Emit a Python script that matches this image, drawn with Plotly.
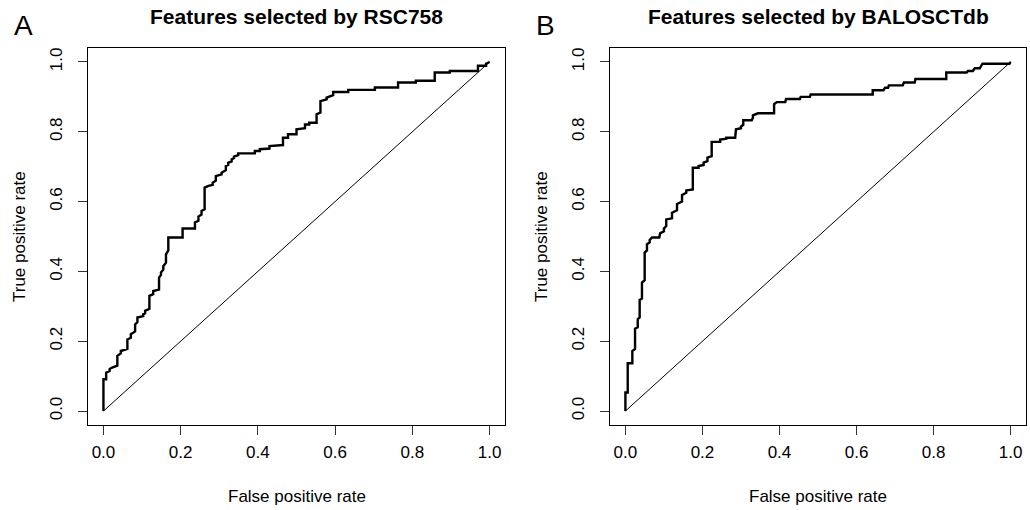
import plotly.graph_objects as go

# ---------------- data ----------------
fpr_rsc = [0, 0, 0.007, 0.007, 0.016, 0.016, 0.021, 0.036, 0.036, 0.045, 0.045, 0.062, 0.062,
           0.071, 0.071, 0.082, 0.082, 0.088, 0.088, 0.103, 0.103, 0.108, 0.108, 0.119, 0.119,
           0.129, 0.129, 0.144, 0.144, 0.149, 0.149, 0.155, 0.155, 0.162, 0.162, 0.168, 0.168,
           0.205, 0.205, 0.237, 0.237, 0.246, 0.246, 0.254, 0.254, 0.262, 0.262, 0.272, 0.283,
           0.283, 0.291, 0.291, 0.306, 0.306, 0.317, 0.317, 0.323, 0.323, 0.332, 0.332, 0.338,
           0.338, 0.349, 0.349, 0.392, 0.392, 0.405, 0.405, 0.43, 0.43, 0.465, 0.465, 0.478,
           0.478, 0.5, 0.5, 0.522, 0.522, 0.533, 0.533, 0.552, 0.552, 0.562, 0.562, 0.578,
           0.578, 0.595, 0.595, 0.634, 0.634, 0.703, 0.703, 0.763, 0.763, 0.809, 0.809, 0.858,
           0.858, 0.897, 0.897, 0.97, 0.97, 0.991, 0.991, 1.0]
tpr_rsc = [0, 0.091, 0.091, 0.11, 0.115, 0.12, 0.124, 0.13, 0.158, 0.165, 0.172, 0.178, 0.205,
           0.21, 0.22, 0.228, 0.248, 0.255, 0.268, 0.272, 0.277, 0.28, 0.287, 0.293, 0.33,
           0.335, 0.344, 0.348, 0.382, 0.39, 0.397, 0.405, 0.415, 0.425, 0.449, 0.46, 0.497,
           0.497, 0.523, 0.523, 0.54, 0.545, 0.557, 0.563, 0.573, 0.578, 0.64, 0.645, 0.648,
           0.654, 0.66, 0.673, 0.678, 0.683, 0.69, 0.702, 0.705, 0.711, 0.715, 0.721, 0.725,
           0.729, 0.733, 0.738, 0.738, 0.745, 0.745, 0.75, 0.752, 0.759, 0.762, 0.783, 0.783,
           0.793, 0.793, 0.807, 0.81, 0.821, 0.821, 0.826, 0.826, 0.85, 0.855, 0.888, 0.893,
           0.898, 0.905, 0.914, 0.914, 0.92, 0.92, 0.927, 0.927, 0.941, 0.941, 0.946, 0.946,
           0.97, 0.97, 0.974, 0.974, 0.989, 0.989, 0.995, 1.0]

fpr_bal = [0, 0, 0.006, 0.006, 0.018, 0.018, 0.025, 0.025, 0.032, 0.032, 0.037, 0.037, 0.043,
           0.043, 0.05, 0.05, 0.056, 0.056, 0.063, 0.063, 0.069, 0.088, 0.09, 0.1, 0.1, 0.106,
           0.106, 0.121, 0.121, 0.134, 0.134, 0.147, 0.147, 0.158, 0.158, 0.175, 0.175, 0.19,
           0.19, 0.203, 0.203, 0.213, 0.213, 0.224, 0.224, 0.246, 0.246, 0.262, 0.262, 0.285,
           0.287, 0.3, 0.3, 0.306, 0.306, 0.328, 0.331, 0.331, 0.344, 0.386, 0.386, 0.393,
           0.415, 0.417, 0.453, 0.455, 0.479, 0.481, 0.642, 0.642, 0.67, 0.674, 0.682, 0.684,
           0.72, 0.723, 0.751, 0.753, 0.833, 0.833, 0.886, 0.889, 0.902, 0.907, 0.92, 0.927,
           0.997, 1.0]
tpr_bal = [0, 0.053, 0.053, 0.137, 0.137, 0.172, 0.178, 0.236, 0.24, 0.263, 0.268, 0.318, 0.322,
           0.368, 0.375, 0.454, 0.46, 0.478, 0.483, 0.49, 0.497, 0.497, 0.509, 0.515, 0.523,
           0.53, 0.549, 0.552, 0.568, 0.575, 0.593, 0.6, 0.619, 0.625, 0.632, 0.635, 0.697,
           0.697, 0.702, 0.705, 0.712, 0.716, 0.726, 0.73, 0.771, 0.771, 0.778, 0.78, 0.783,
           0.783, 0.807, 0.81, 0.815, 0.82, 0.833, 0.833, 0.84, 0.847, 0.853, 0.853, 0.879,
           0.885, 0.885, 0.894, 0.894, 0.9, 0.9, 0.907, 0.907, 0.919, 0.919, 0.926, 0.926,
           0.933, 0.933, 0.941, 0.941, 0.951, 0.951, 0.97, 0.97, 0.974, 0.974, 0.982, 0.982,
           0.995, 0.995, 1.0]

diag = [0, 1]
tick_vals = [0, 0.2, 0.4, 0.6, 0.8, 1.0]
tick_text = ["0.0", "0.2", "0.4", "0.6", "0.8", "1.0"]
titles = ["Features selected by RSC758", "Features selected by BALOSCTdb"]
panel_labels = ["A", "B"]

# ---------------- figure ----------------
W, H = 1030, 510
FONT = "Liberation Sans, Arial, sans-serif"

boxes = [(88, 505), (610, 1026)]
y_top, y_bot = 48, 425
ydom = [(H - y_bot) / H, (H - y_top) / H]

fig = go.Figure()

curves = [(fpr_rsc, tpr_rsc), (fpr_bal, tpr_bal)]
for i, (fx, fy) in enumerate(curves):
    xa = "x" if i == 0 else "x2"
    ya = "y" if i == 0 else "y2"
    fig.add_trace(go.Scatter(x=diag, y=diag, mode="lines", line=dict(color="black", width=1),
                             xaxis=xa, yaxis=ya, showlegend=False, hoverinfo="skip"))
    fig.add_trace(go.Scatter(x=fx, y=fy, mode="lines", line=dict(color="black", width=2.4),
                             xaxis=xa, yaxis=ya, showlegend=False))

axis_common = dict(
    range=[-0.04, 1.04], showgrid=False, zeroline=False,
    showline=True, mirror=True, linecolor="black", linewidth=1,
    ticks="outside", ticklen=9, tickcolor="#333333", tickwidth=1,
    tickvals=tick_vals, ticktext=tick_text,
    tickfont=dict(family=FONT, size=17, color="black"),
)

for i, (l, r) in enumerate(boxes):
    xkey = "xaxis" if i == 0 else "xaxis2"
    ykey = "yaxis" if i == 0 else "yaxis2"
    fig.update_layout(**{
        xkey: dict(domain=[l / W, r / W], anchor="y" if i == 0 else "y2",
                   ticklabelstandoff=3, **axis_common),
        ykey: dict(domain=ydom, anchor="x" if i == 0 else "x2", tickangle=-90,
                   ticklabelstandoff=9, **axis_common),
    })
    cx = (l + r) / 2
    fig.add_annotation(text="<b>" + titles[i] + "</b>", x=cx / W, y=(H - 17) / H,
                       xref="paper", yref="paper", showarrow=False,
                       font=dict(family=FONT, size=21, color="black"),
                       xanchor="center", yanchor="middle")
    fig.add_annotation(text=panel_labels[i], x=(23 if i == 0 else 545) / W, y=(H - 25) / H,
                       xref="paper", yref="paper", showarrow=False,
                       font=dict(family=FONT, size=28, color="black"),
                       xanchor="center", yanchor="middle")
    fig.add_annotation(text="False positive rate", x=cx / W, y=(H - 496) / H,
                       xref="paper", yref="paper", showarrow=False,
                       font=dict(family=FONT, size=17, color="black"),
                       xanchor="center", yanchor="middle")
    fig.add_annotation(text="True positive rate", x=(l - 69) / W, y=(H - 237) / H,
                       xref="paper", yref="paper", showarrow=False, textangle=-90,
                       font=dict(family=FONT, size=17, color="black"),
                       xanchor="center", yanchor="middle")

fig.update_layout(
    width=W, height=H, margin=dict(l=0, r=0, t=0, b=0),
    paper_bgcolor="white", plot_bgcolor="white",
    font=dict(family=FONT, color="black"),
)

fig.write_html("out.html")
